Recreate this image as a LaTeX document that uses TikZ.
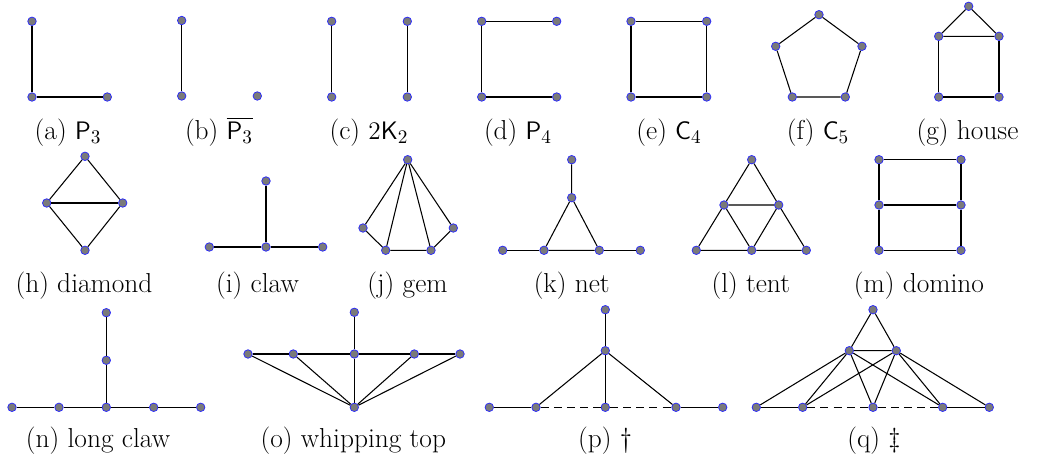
\documentclass[tikz,border=0pt]{standalone}
\usepackage{amsmath}
\begin{document}
\begin{tikzpicture}[x=0.02cm, y=-0.02cm, line width=0.6pt, vtx/.style = {draw=blue!85, fill=black!52, circle, inner sep=0pt, minimum size=0.17cm, line width=0.4pt}, lbl/.style = {anchor=base, font=\fontsize{15.6}{18}\selectfont}, dsh/.style = {dash pattern=on 4.5pt off 3pt}]
\useasboundingbox (0,0) rectangle (1046,463);
% (a)
\node[vtx] (a1) at (32,21.3) {};
\node[vtx] (a2) at (32,97) {};
\node[vtx] (a3) at (107.3,97) {};
\draw (a1) -- (a2) -- (a3);
\node[lbl] (la) at (68,139.5) {(a) $\mathsf{P}_3$};
% (b)
\node[vtx] (b1) at (181.7,20.5) {};
\node[vtx] (b2) at (181.7,96) {};
\node[vtx] (b3) at (257.3,96) {};
\draw (b1) -- (b2);
\node[lbl] (lb) at (219,139.5) {(b) $\overline{\mathsf{P}_3}$};
% (c)
\node[vtx] (c1) at (331.7,21.3) {};
\node[vtx] (c2) at (331.7,97) {};
\node[vtx] (c3) at (407.3,21.3) {};
\node[vtx] (c4) at (407.3,97) {};
\draw (c1) -- (c2);
\draw (c3) -- (c4);
\node[lbl] (lc) at (369,139.5) {(c) $2\mathsf{K}_2$};
% (d)
\node[vtx] (d1) at (481.7,21.3) {};
\node[vtx] (d2) at (556.7,21.3) {};
\node[vtx] (d3) at (481.7,97) {};
\node[vtx] (d4) at (556.7,97) {};
\draw (d2) -- (d1) -- (d3) -- (d4);
\node[lbl] (ld) at (518,139.5) {(d) $\mathsf{P}_4$};
% (e)
\node[vtx] (e1) at (631,21.3) {};
\node[vtx] (e2) at (706.7,21.3) {};
\node[vtx] (e3) at (631,97) {};
\node[vtx] (e4) at (706.7,97) {};
\draw (e1) -- (e2) -- (e4) -- (e3) -- (e1);
\node[lbl] (le) at (669,139.5) {(e) $\mathsf{C}_4$};
% (f)
\node[vtx] (f1) at (819,14.7) {};
\node[vtx] (f2) at (862,46.3) {};
\node[vtx] (f3) at (845.3,97) {};
\node[vtx] (f4) at (792.3,97) {};
\node[vtx] (f5) at (775.7,46.3) {};
\draw (f1) -- (f2) -- (f3) -- (f4) -- (f5) -- (f1);
\node[lbl] (lf) at (818,139.5) {(f) $\mathsf{C}_5$};
% (g)
\node[vtx] (g1) at (968.7,6.3) {};
\node[vtx] (g2) at (938.7,36.3) {};
\node[vtx] (g3) at (999,36.3) {};
\node[vtx] (g4) at (938.7,97) {};
\node[vtx] (g5) at (999,97) {};
\draw (g1) -- (g2) -- (g3) -- (g1);
\draw (g2) -- (g4) -- (g5) -- (g3);
\node[lbl] (lg) at (967.5,139.5) {(g) house};
% (h)
\node[vtx] (h1) at (85,156.3) {};
\node[vtx] (h2) at (46.7,203) {};
\node[vtx] (h3) at (122.7,203) {};
\node[vtx] (h4) at (85,250.3) {};
\draw (h1) -- (h2) -- (h4) -- (h3) -- (h1);
\draw (h2) -- (h3);
\node[lbl] (lh) at (84,292.7) {(h) diamond};
% (i)
\node[vtx] (i1) at (266,181) {};
\node[vtx] (i2) at (266,247) {};
\node[vtx] (i3) at (209.3,247) {};
\node[vtx] (i4) at (322.7,247) {};
\draw (i1) -- (i2);
\draw (i3) -- (i2) -- (i4);
\node[lbl] (li) at (257.5,292.7) {(i) claw};
% (j)
\node[vtx] (j1) at (407.7,159.7) {};
\node[vtx] (j2) at (363,228) {};
\node[vtx] (j3) at (385.7,250.3) {};
\node[vtx] (j4) at (431,250.3) {};
\node[vtx] (j5) at (453.3,228) {};
\draw (j2) -- (j3) -- (j4) -- (j5);
\foreach \v in {j2,j3,j4,j5}
  \draw (j1) -- (\v);
\node[lbl] (lj) at (407.5,292.7) {(j) gem};
% (k)
\node[vtx] (k1) at (571.7,159.7) {};
\node[vtx] (k2) at (571.7,197.7) {};
\node[vtx] (k3) at (544,250.3) {};
\node[vtx] (k4) at (599.3,250.3) {};
\node[vtx] (k5) at (502.7,250.3) {};
\node[vtx] (k6) at (640.3,250.3) {};
\draw (k1) -- (k2) -- (k3) -- (k4) -- (k2);
\draw (k5) -- (k3);
\draw (k4) -- (k6);
\node[lbl] (lk) at (571.7,292.7) {(k) net};
% (l)
\node[vtx] (l1) at (751.7,159.7) {};
\node[vtx] (l2) at (724,205) {};
\node[vtx] (l3) at (778.7,205) {};
\node[vtx] (l4) at (696.3,250.3) {};
\node[vtx] (l5) at (751.7,250.3) {};
\node[vtx] (l6) at (806.3,250.3) {};
\draw (l1) -- (l2) -- (l3) -- (l1);
\draw (l2) -- (l4) -- (l5) -- (l6) -- (l3);
\draw (l2) -- (l5) -- (l3);
\node[lbl] (ll) at (750.8,292.7) {(l) tent};
% (m)
\node[vtx] (m1) at (879,159.7) {};
\node[vtx] (m2) at (961,159.7) {};
\node[vtx] (m3) at (879,205) {};
\node[vtx] (m4) at (961,205) {};
\node[vtx] (m5) at (879,250.3) {};
\node[vtx] (m6) at (961,250.3) {};
\draw (m1) -- (m2) -- (m4) -- (m6) -- (m5) -- (m3) -- (m1);
\draw (m3) -- (m4);
\node[lbl] (lm) at (919,292.7) {(m) domino};
% (n)
\node[vtx] (n1) at (106.3,312.7) {};
\node[vtx] (n2) at (106.3,360.3) {};
\node[vtx] (n3) at (12,407.3) {};
\node[vtx] (n4) at (59,407.3) {};
\node[vtx] (n5) at (106.3,407.3) {};
\node[vtx] (n6) at (153.7,407.3) {};
\node[vtx] (n7) at (200.7,407.3) {};
\draw (n1) -- (n2) -- (n5);
\draw (n3) -- (n4) -- (n5) -- (n6) -- (n7);
\node[lbl] (ln) at (98,447.3) {(n) long claw};
% (o)
\node[vtx] (o1) at (354.3,312.3) {};
\node[vtx] (o2) at (248,354) {};
\node[vtx] (o3) at (293.3,354) {};
\node[vtx] (o4) at (354.3,354) {};
\node[vtx] (o5) at (414.3,354) {};
\node[vtx] (o6) at (460,354) {};
\node[vtx] (o7) at (354.3,407.3) {};
\draw (o1) -- (o4);
\draw (o2) -- (o3) -- (o4) -- (o5) -- (o6);
\foreach \v in {o2,o3,o4,o5,o6}
  \draw (o7) -- (\v);
\node[lbl] (lo) at (353.3,447.3) {(o) whipping top};
% (p)
\node[vtx] (p1) at (605.3,309.7) {};
\node[vtx] (p2) at (605.3,350.7) {};
\node[vtx] (p3) at (489.3,407.3) {};
\node[vtx] (p4) at (536,407.3) {};
\node[vtx] (p5) at (605.3,407.3) {};
\node[vtx] (p6) at (676,407.3) {};
\node[vtx] (p7) at (722.7,407.3) {};
\draw (p1) -- (p2);
\foreach \v in {p4,p5,p6}
  \draw (p2) -- (\v);
\draw (p3) -- (p4);
\draw[dsh] (p4) -- (p5) -- (p6);
\draw (p6) -- (p7);
\node[lbl] (lp) at (605,447.3) {(p) \dag};
% (q)
\node[vtx] (q1) at (873,309.7) {};
\node[vtx] (q2) at (849.3,350.7) {};
\node[vtx] (q3) at (896.3,350.7) {};
\node[vtx] (q4) at (756.3,407.3) {};
\node[vtx] (q5) at (802.7,407.3) {};
\node[vtx] (q6) at (873,407.3) {};
\node[vtx] (q7) at (942.7,407.3) {};
\node[vtx] (q8) at (989.3,407.3) {};
\draw (q1) -- (q2) -- (q3) -- (q1);
\foreach \v in {q4,q5,q6,q7}
  \draw (q2) -- (\v);
\foreach \v in {q5,q6,q7,q8}
  \draw (q3) -- (\v);
\draw (q4) -- (q5);
\draw[dsh] (q5) -- (q6) -- (q7);
\draw (q7) -- (q8);
\node[lbl] (lq) at (874,447.3) {(q) \ddag};
\end{tikzpicture}
\end{document}
